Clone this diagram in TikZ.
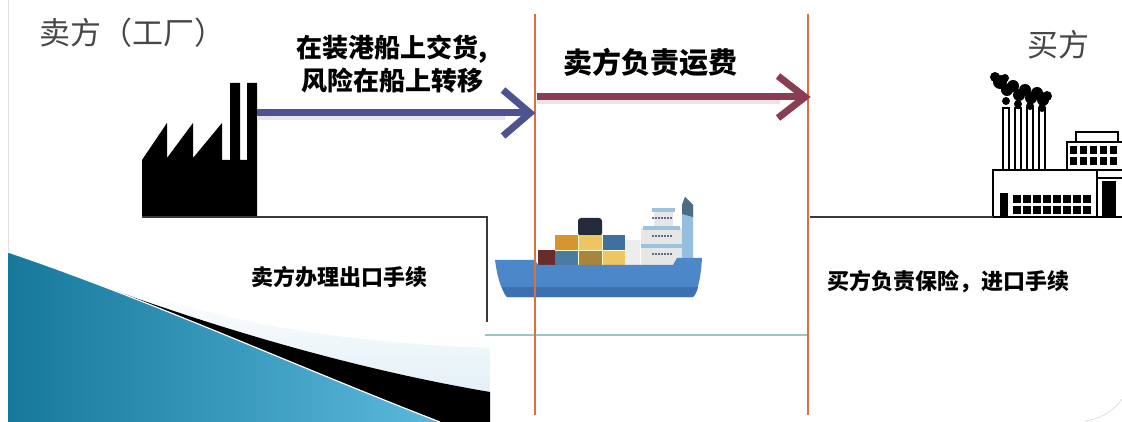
\documentclass[tikz,border=0pt]{standalone}
\usepackage{fontspec}
\newfontfamily\cjk{Noto Sans CJK SC}
\definecolor{titlegray}{HTML}{474747}
\definecolor{arrowblue}{HTML}{4D5391}
\definecolor{arrowwine}{HTML}{8A3D52}
\definecolor{cutline}{HTML}{D9713C}
\definecolor{seateal}{HTML}{9CC6C6}
\definecolor{groundgray}{HTML}{3A3A3A}
\definecolor{hullblue}{HTML}{4C88C9}
\definecolor{hulldark}{HTML}{3C70AE}
\definecolor{swdark}{HTML}{16789A}
\definecolor{swlight}{HTML}{5BB9DD}
\definecolor{swhaze}{HTML}{E2F0F6}
\definecolor{boxnavy}{HTML}{232B3A}
\definecolor{boxorange}{HTML}{D7962D}
\definecolor{boxyellow}{HTML}{EEC563}
\definecolor{boxblue}{HTML}{3F70A0}
\definecolor{boxred}{HTML}{6B2B2A}
\definecolor{boxsteel}{HTML}{4A7BA3}
\definecolor{boxbrown}{HTML}{A8853A}
\definecolor{deckgray}{HTML}{E6E6E6}
\definecolor{ledge}{HTML}{9CC3DE}
\definecolor{portholes}{HTML}{5A6E8A}
\definecolor{funnel}{HTML}{93BEDF}
\definecolor{funneltop}{HTML}{4D6C82}
\begin{document}
\begin{tikzpicture}[x=1pt,y=-1pt,
  title/.style={font=\cjk\fontsize{31}{31}\selectfont, text=titlegray, inner sep=0pt},
  note/.style={font=\cjk\bfseries\fontsize{#1}{#1}\selectfont, text=black, inner sep=0pt, align=center},
  note/.default=22,
  flow/.style={line width=7pt},
  chevron/.style={line width=7pt, line join=miter},
  cut/.style={cutline, line width=2.6pt},
  ground/.style={groundgray, line width=1.6pt}]
\useasboundingbox (0,0) rectangle (1122,422);
\fill[white] (0,0) rectangle (1122,422);

% slide margin line on the left
\draw[gray!25, line width=0.8pt] (8,0) -- (8,422);

% decorative swoosh in the lower left
\begin{scope}
  \clip (8,0) rectangle (490,422);
  \shade[top color=white, bottom color=swhaze]
        (220,315) .. controls (320,338) and (410,345) .. (490,348)
        -- (490,394) .. controls (360,372) and (220,330) .. (80,280) -- cycle;
  \fill[black] (80,278) .. controls (220,330) and (360,370) .. (490,392)
        -- (490,422) -- (8,422) -- (8,252) -- cycle;
  \shade[left color=swdark, right color=swlight]
        (8,252) .. controls (150,300) and (300,368) .. (440,422) -- (8,422) -- cycle;
  \draw[white, line width=1.2pt] (8,252) .. controls (150,300) and (300,368) .. (440,422);
\end{scope}

% titles of the two parties
\node[title] (seller) at (132,33) {卖方（工厂）};
\node[title] (buyer) at (1058,45) {买方};

% seller's factory
\fill[black] (142,218) -- (142,160) -- (167,123) -- (167,158) -- (193,123) -- (193,158)
  -- (222,123) -- (222,160) -- (230,160) -- (230,83) -- (240,83) -- (240,160)
  -- (247,160) -- (247,83) -- (257,83) -- (257,218) -- cycle;

% buyer's factory
\begin{scope}[line width=1.4pt]
  \foreach \cx in {1006,1018,1030,1042}
    \draw[fill=white] (\cx-3,108) rectangle (\cx+3,170);
  \fill[black] (1000,82) circle (7) (1007,90) circle (6) (1013,86) circle (6)
    (1019,95) circle (6) (1025,90) circle (6) (1031,98) circle (6)
    (1037,93) circle (6) (1043,100) circle (6) (995,77) circle (5)
    (1005,78) circle (4) (1047,96) circle (5) (1006,101) circle (4)
    (1018,104) circle (4) (1030,106) circle (4) (1042,108) circle (4);
  \draw[fill=white] (1076,132) rectangle (1118,142);
  \draw[fill=white] (1067,142) rectangle (1124,170);
  \foreach \wx in {1070,1080,1090,1100,1110}
    \foreach \wy in {146,157}
      \fill[black] (\wx,\wy) rectangle (\wx+7,\wy+8);
  \draw[fill=white] (1097,178) rectangle (1124,217);
  \fill[black] (1102,181) rectangle (1116,217);
  \draw[fill=white] (993,170) rectangle (1097,217);
  \fill[black] (1000,193) rectangle (1008,217);
  \foreach \wx in {1013,1023,1033,1043,1053,1063,1073,1083}
    \foreach \wy in {195,206}
      \fill[black] (\wx,\wy) rectangle (\wx+8,\wy+8);
\end{scope}

% ground lines
\coordinate (gl0) at (142,217);
\coordinate (gl1) at (487,217);
\coordinate (gl2) at (487,322);
\draw[ground] (gl0) -- (gl1) -- (gl2);
\coordinate (gr0) at (810,217);
\coordinate (gr1) at (993,217);
\draw[ground] (gr0) -- (gr1);

% sea level
\coordinate (sea0) at (485,335);
\coordinate (sea1) at (808,335);
\draw[seateal, line width=2.4pt] (sea0) -- (sea1);

% ship
\begin{scope}
  % containers
  \fill[boxnavy, rounded corners=3pt] (578,218) rectangle (602,236);
  \fill[boxorange] (555,235) rectangle (578,250);
  \fill[boxyellow] (578,235) rectangle (602,250);
  \fill[boxblue] (602,235) rectangle (625,250);
  \fill[boxred] (538,250) rectangle (555,265);
  \fill[boxsteel] (555,250) rectangle (578,265);
  \fill[boxbrown] (578,250) rectangle (602,265);
  \fill[boxyellow] (602,250) rectangle (625,265);
  \draw[white!80!yellow, line width=0.5pt] (578,235) -- (578,265) (602,235) -- (602,265) (555,250) -- (625,250);
  % superstructure
  \fill[deckgray!70] (625,240) rectangle (640,265);
  \fill[deckgray] (641,228) rectangle (682,265);
  \fill[deckgray] (654,212) rectangle (673,227);
  \fill[ledge] (652,208) rectangle (675,212);
  \fill[ledge] (643,226) rectangle (680,230);
  \fill[ledge] (641,244) rectangle (682,248);
  \foreach \wy in {218,236,254}
    \draw[portholes, line width=1.4pt, dash pattern=on 1.5pt off 1.5pt] (652,\wy) -- (672,\wy);
  % funnel
  \fill[funnel] (682,262) -- (682,205) -- (685,197) -- (693,205) -- (693,262) -- cycle;
  \fill[funneltop] (682,214) -- (682,205) -- (685,197) -- (693,205) -- (693,217) -- cycle;
  % hull
  \fill[hullblue] (495,260) -- (535,260) -- (538,265) -- (673,265) -- (677,258) -- (702,258)
     .. controls (701,275) and (699,288) .. (693,297) -- (507,297)
     .. controls (500,288) and (497,275) .. (495,260) -- cycle;
  \fill[hulldark] (502,287) -- (698,287) .. controls (697,292) and (695,295) .. (693,297)
     -- (507,297) .. controls (505,295) and (503,291) .. (502,287) -- cycle;
\end{scope}

% dividing lines between the stages
\coordinate (c1t) at (535,14);
\coordinate (c1b) at (535,415);
\coordinate (c2t) at (808,14);
\coordinate (c2b) at (808,415);
\draw[cut] (c1t) -- (c1b);
\draw[cut] (c2t) -- (c2b);

% seller delivers on board at the port of loading
\coordinate (a1s) at (257,113);
\coordinate (a1e) at (530,113);
\draw[arrowblue!15, line width=4pt] (257,118) -- (505,118);
\draw[flow, arrowblue] (a1s) -- (a1e);
\draw[chevron, arrowblue] (503,90) -- (a1e) -- (503,136);

% seller pays the freight
\coordinate (a2s) at (537,97);
\coordinate (a2e) at (805,97);
\draw[arrowwine!15, line width=4pt] (537,102) -- (780,102);
\draw[flow, arrowwine] (a2s) -- (a2e);
\draw[chevron, arrowwine] (778,76) -- (a2e) -- (778,118);

% captions
\node[note=26] (risk) at (392,64) {在装港船上交货,\\[4pt]风险在船上转移};
\node[note=29] (freight) at (650,62) {卖方负责运费};
\node[note=22] (export) at (339,277) {卖方办理出口手续};
\node[note=22] (import) at (948,282) {买方负责保险，进口手续};

% rounded slide corner
\draw[gray!30, line width=0.6pt] (1085,421) .. controls (1104,418) and (1115,409) .. (1122,399);
\end{tikzpicture}
\end{document}
